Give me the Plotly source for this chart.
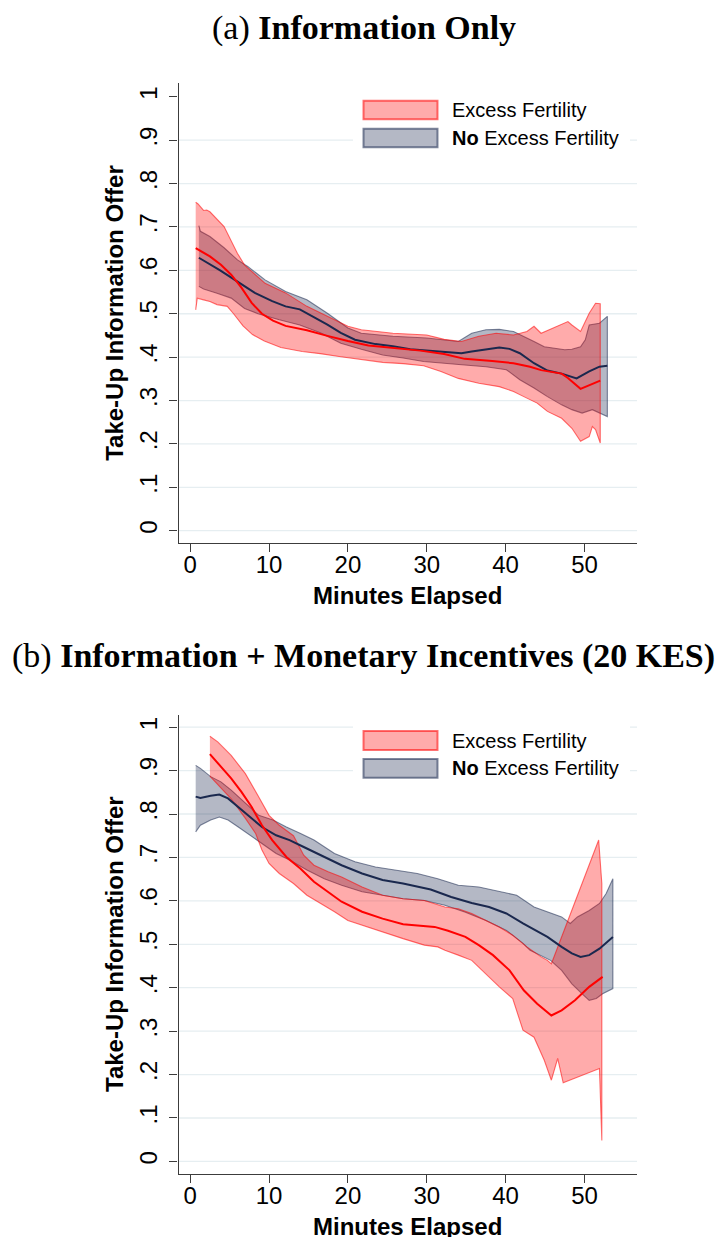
import plotly.graph_objects as go

W, H = 727, 1237

# ---------------- Panel (a): Information Only ----------------
# Excess Fertility: local mean and confidence band
a_ex_x = [0.7, 2.5, 3.9, 5.2, 6.5, 7.8, 9.1, 10.5, 12.1, 14.8, 17.4, 20.0, 22.6, 25.7, 29.2,
          32.2, 34.8, 38.3, 41.0, 43.1, 44.5, 47.1, 47.9, 49.5, 52.0]
a_ex_mean = [0.651, 0.632, 0.613, 0.590, 0.560, 0.525, 0.500, 0.484, 0.472, 0.462, 0.449, 0.437,
             0.427, 0.421, 0.415, 0.407, 0.396, 0.391, 0.386, 0.378, 0.370, 0.362, 0.352, 0.327, 0.346]
a_ex_hi_x = [0.7, 1.0, 1.7, 2.1, 2.5, 4.3, 6.0, 6.9, 9.5, 12.1, 14.8, 17.4, 20.0, 21.7, 25.7, 30.0,
             32.2, 34.4, 36.6, 38.8, 41.0, 42.7, 43.6, 44.5, 46.6, 47.9, 48.4, 49.5, 50.6, 51.4, 52.0]
a_ex_hi = [0.757, 0.753, 0.738, 0.739, 0.735, 0.701, 0.639, 0.612, 0.570, 0.548, 0.517, 0.494, 0.471,
           0.463, 0.455, 0.451, 0.441, 0.436, 0.448, 0.455, 0.451, 0.459, 0.471, 0.455, 0.471, 0.482,
           0.474, 0.459, 0.501, 0.524, 0.523]
a_ex_lo_x = [0.7, 0.9, 1.7, 2.5, 3.4, 4.7, 5.5, 6.7, 7.9, 9.4, 11.5, 14.2, 16.5, 19.1, 21.7, 24.4,
             27.0, 29.6, 31.8, 34.0, 36.6, 39.2, 41.0, 42.3, 44.0, 45.3, 47.1, 48.4, 49.5, 50.6, 51.0,
             51.4, 52.0]
a_ex_lo = [0.509, 0.536, 0.532, 0.528, 0.521, 0.517, 0.500, 0.472, 0.452, 0.437, 0.422, 0.413, 0.408,
           0.401, 0.394, 0.388, 0.385, 0.380, 0.367, 0.351, 0.340, 0.332, 0.321, 0.309, 0.294, 0.275,
           0.259, 0.236, 0.206, 0.217, 0.240, 0.233, 0.202]

# No Excess Fertility
a_no_x = [1.1, 3.8, 6.0, 8.2, 10.4, 12.1, 13.9, 15.6, 17.4, 19.1, 20.9, 23.5, 25.7, 27.9, 30.0,
          32.2, 34.4, 35.7, 37.5, 39.2, 40.5, 41.8, 43.6, 45.3, 47.1, 49.0, 50.6, 51.9, 52.9]
a_no_mean = [0.629, 0.600, 0.574, 0.548, 0.529, 0.517, 0.510, 0.493, 0.475, 0.456, 0.440, 0.430,
             0.425, 0.418, 0.415, 0.411, 0.409, 0.413, 0.418, 0.422, 0.419, 0.409, 0.386, 0.369,
             0.362, 0.351, 0.367, 0.378, 0.380]
a_no_hi_x = [1.1, 1.3, 2.5, 4.3, 6.0, 7.3, 9.5, 12.1, 14.8, 17.4, 20.0, 21.7, 25.7, 30.0, 34.0, 35.7,
             37.5, 39.2, 41.0, 42.3, 43.6, 44.9, 46.2, 47.5, 48.4, 49.5, 50.1, 50.6, 51.9, 52.9]
a_no_hi = [0.703, 0.690, 0.678, 0.652, 0.624, 0.609, 0.578, 0.551, 0.532, 0.501, 0.467, 0.455, 0.448,
           0.444, 0.436, 0.455, 0.463, 0.464, 0.459, 0.448, 0.436, 0.424, 0.421, 0.417, 0.418, 0.424,
           0.440, 0.474, 0.478, 0.494]
a_no_lo_x = [1.1, 1.7, 3.4, 5.2, 6.9, 8.6, 11.3, 13.9, 16.5, 19.1, 21.7, 24.4, 27.0, 29.6, 32.2, 34.8,
             37.5, 40.1, 41.8, 43.6, 45.3, 47.1, 48.4, 49.7, 51.0, 51.9, 52.9]
a_no_lo = [0.563, 0.557, 0.547, 0.536, 0.512, 0.500, 0.486, 0.474, 0.456, 0.432, 0.418, 0.405, 0.398,
           0.390, 0.386, 0.382, 0.378, 0.371, 0.348, 0.329, 0.309, 0.290, 0.279, 0.271, 0.279, 0.271,
           0.263]

# ---------------- Panel (b): Information + Monetary Incentives ----------------
b_ex_x = [2.5, 3.9, 5.2, 6.5, 7.8, 9.1, 10.4, 12.2, 14.0, 15.7, 17.5, 19.2, 21.8, 24.4, 27.0, 29.7,
          31.0, 32.7, 34.9, 36.6, 38.4, 40.5, 42.3, 44.0, 45.8, 47.1, 48.8, 50.6, 52.3]
b_ex_mean = [0.938, 0.908, 0.882, 0.851, 0.816, 0.774, 0.740, 0.701, 0.674, 0.644, 0.621, 0.598,
             0.575, 0.559, 0.546, 0.542, 0.540, 0.531, 0.517, 0.498, 0.475, 0.440, 0.394, 0.363,
             0.336, 0.348, 0.371, 0.402, 0.425]
b_ex_hi_x = [2.5, 3.5, 5.2, 7.0, 8.7, 10.0, 11.3, 13.1, 14.4, 15.7, 17.5, 19.2, 21.8, 24.4, 27.0,
             29.7, 32.3, 34.0, 35.7, 37.5, 39.2, 40.9, 42.7, 44.5, 45.3, 45.8, 51.8, 52.2]
b_ex_hi = [0.979, 0.966, 0.935, 0.893, 0.839, 0.797, 0.774, 0.750, 0.705, 0.682, 0.667, 0.655, 0.632,
           0.613, 0.605, 0.601, 0.586, 0.582, 0.571, 0.555, 0.540, 0.521, 0.494, 0.471, 0.463, 0.455,
           0.740, 0.640]
b_ex_lo_x = [2.5, 3.9, 5.2, 7.0, 8.3, 9.1, 10.0, 11.3, 13.1, 14.8, 16.5, 18.3, 20.0, 21.8, 24.4,
             27.0, 29.7, 31.4, 32.3, 34.0, 35.7, 37.5, 39.2, 40.9, 42.2, 43.6, 44.9, 45.8, 46.2, 46.6,
             47.3, 51.9, 52.2]
b_ex_lo = [0.887, 0.861, 0.835, 0.790, 0.755, 0.717, 0.686, 0.663, 0.640, 0.613, 0.594, 0.575, 0.555,
           0.544, 0.529, 0.513, 0.498, 0.494, 0.486, 0.475, 0.463, 0.432, 0.402, 0.375, 0.302, 0.286,
           0.233, 0.187, 0.210, 0.237, 0.181, 0.214, 0.048]

b_no_x = [0.7, 1.3, 2.6, 3.7, 4.8, 6.1, 7.4, 9.1, 10.9, 12.6, 14.4, 16.5, 19.2, 21.8, 24.4, 27.0,
          30.5, 33.1, 35.7, 37.9, 40.1, 42.2, 45.3, 47.1, 48.4, 49.5, 50.6, 51.9, 53.6]
b_no_mean = [0.840, 0.837, 0.842, 0.845, 0.836, 0.816, 0.797, 0.770, 0.751, 0.740, 0.724, 0.705,
             0.682, 0.663, 0.648, 0.640, 0.626, 0.609, 0.595, 0.586, 0.571, 0.548, 0.517, 0.494,
             0.479, 0.471, 0.475, 0.490, 0.517]
b_no_hi_x = [0.7, 1.3, 2.6, 3.9, 5.2, 7.0, 8.7, 10.5, 12.2, 14.0, 15.7, 18.3, 20.9, 23.5, 26.2, 28.8,
             31.4, 34.0, 36.6, 39.2, 41.4, 43.6, 45.3, 47.1, 48.2, 49.1, 50.6, 51.9, 52.75, 53.6]
b_no_hi = [0.912, 0.905, 0.886, 0.874, 0.855, 0.824, 0.797, 0.786, 0.770, 0.755, 0.740, 0.709, 0.690,
           0.678, 0.671, 0.663, 0.651, 0.636, 0.632, 0.621, 0.613, 0.586, 0.574, 0.563, 0.548, 0.563,
           0.578, 0.594, 0.617, 0.651]
b_no_lo_x = [0.7, 1.3, 2.6, 3.7, 4.8, 6.1, 7.4, 9.1, 10.9, 12.6, 14.8, 17.0, 19.2, 21.8, 24.4, 27.0,
             29.7, 32.3, 34.9, 37.5, 40.1, 42.2, 43.1, 45.7, 47.1, 48.4, 49.7, 50.6, 51.5, 52.3, 53.6]
b_no_lo = [0.759, 0.774, 0.786, 0.793, 0.786, 0.770, 0.755, 0.732, 0.709, 0.694, 0.671, 0.651, 0.636,
           0.621, 0.613, 0.605, 0.601, 0.590, 0.574, 0.555, 0.532, 0.502, 0.486, 0.463, 0.440, 0.409,
           0.386, 0.371, 0.375, 0.386, 0.398]

# Axis ticks and text
x_ticks = [0, 10, 20, 30, 40, 50]
y_ticks = [0, 0.1, 0.2, 0.3, 0.4, 0.5, 0.6, 0.7, 0.8, 0.9, 1.0]
y_ticktext = ["0", ".1", ".2", ".3", ".4", ".5", ".6", ".7", ".8", ".9", "1"]
grid_a = [0, 0.1, 0.2, 0.3, 0.4, 0.5, 0.6, 0.7, 0.8, 0.9]
grid_b = [0, 0.1, 0.2, 0.3, 0.4, 0.5, 0.6, 0.7, 0.8, 0.9, 1.0]
panel_titles = ["(a) <b>Information Only</b>",
                "(b) <b>Information + Monetary Incentives (20 KES)</b>"]
legend_labels = ["Excess Fertility", "<b>No</b> Excess Fertility"]
x_title = "Minutes Elapsed"
y_title = "Take-Up Information Offer"

# ---------------- styling ----------------
NAVY = "26,40,78"
RED = "255,0,0"
SANS = "Liberation Sans, Arial, sans-serif"
SERIF = "Liberation Serif, Times New Roman, serif"
AXIS_COLOR = "#3c3c3c"
GRID_COLOR = "#e6eef1"


def px_x(p):
    return p / W


def px_y(p):
    return 1 - p / H


def band(hx, hy, lx, ly, rgb, xa, ya):
    xs = list(hx) + list(reversed(lx))
    ys = list(hy) + list(reversed(ly))
    return go.Scatter(x=xs, y=ys, mode="lines", fill="toself",
                      fillcolor=f"rgba({rgb},0.33)",
                      line=dict(color=f"rgba({rgb},0.55)", width=1.1),
                      hoverinfo="skip", showlegend=False, xaxis=xa, yaxis=ya)


def mean_line(x, y, color, xa, ya):
    return go.Scatter(x=x, y=y, mode="lines", line=dict(color=color, width=2.0),
                      hoverinfo="skip", showlegend=False, xaxis=xa, yaxis=ya)


fig = go.Figure()
panels = [
    ("x", "y", a_ex_x, a_ex_mean, a_ex_hi_x, a_ex_hi, a_ex_lo_x, a_ex_lo,
     a_no_x, a_no_mean, a_no_hi_x, a_no_hi, a_no_lo_x, a_no_lo),
    ("x2", "y2", b_ex_x, b_ex_mean, b_ex_hi_x, b_ex_hi, b_ex_lo_x, b_ex_lo,
     b_no_x, b_no_mean, b_no_hi_x, b_no_hi, b_no_lo_x, b_no_lo),
]
for (xa, ya, ex_x, ex_m, ex_hx, ex_h, ex_lx, ex_l,
     no_x, no_m, no_hx, no_h, no_lx, no_l) in panels:
    fig.add_trace(band(no_hx, no_h, no_lx, no_l, NAVY, xa, ya))
    fig.add_trace(band(ex_hx, ex_h, ex_lx, ex_l, RED, xa, ya))
    fig.add_trace(mean_line(no_x, no_m, f"rgb({NAVY})", xa, ya))
    fig.add_trace(mean_line(ex_x, ex_m, f"rgb({RED})", xa, ya))

# Plot-region geometry in pixels: (top, bottom) of each panel
x_left, x_right = 178.5, 637.0
panel_px = [(83.3, 543.3), (715.0, 1174.0)]
x_range = [-1.48, 56.66]
y_ranges = [[-0.029, 1.031], [-0.029, 1.028]]

axis_common = dict(showline=True, linecolor=AXIS_COLOR, linewidth=1.3, ticks="outside",
                   ticklen=8, tickwidth=1.3, tickcolor=AXIS_COLOR, showgrid=False,
                   zeroline=False, tickfont=dict(family=SANS, size=24, color="black"))

layout_axes = {}
for i, (top, bot) in enumerate(panel_px):
    sfx = "" if i == 0 else "2"
    layout_axes[f"xaxis{sfx}"] = dict(axis_common, domain=[px_x(x_left), px_x(x_right)],
                                      range=x_range, tickvals=x_ticks,
                                      anchor=f"y{sfx}", ticklabelstandoff=-8)
    layout_axes[f"yaxis{sfx}"] = dict(axis_common, domain=[px_y(bot), px_y(top)],
                                      range=y_ranges[i], tickvals=y_ticks, ticktext=y_ticktext,
                                      tickangle=-90, anchor=f"x{sfx}", ticklabelstandoff=3)

shapes = []
annotations = []
legend_rows = [(100.7, 119.3, 128.7, 147.3), (731.0, 750.0, 759.0, 777.7)]
legend_box = [(88.0, 157.0), (719.0, 788.0)]
for i, grid in enumerate([grid_a, grid_b]):
    xa = "x" if i == 0 else "x2"
    ya = "y" if i == 0 else "y2"
    for v in grid:
        shapes.append(dict(type="line", xref=f"{xa} domain", yref=ya, x0=0, x1=1, y0=v, y1=v,
                           line=dict(color=GRID_COLOR, width=1.3), layer="below"))
    # white legend background interrupting grid lines
    bt, bb = legend_box[i]
    shapes.append(dict(type="rect", xref="paper", yref="paper", x0=px_x(353), x1=px_x(630),
                       y0=px_y(bb), y1=px_y(bt), fillcolor="white", line=dict(width=0),
                       layer="below"))
    r1t, r1b, r2t, r2b = legend_rows[i]
    shapes.append(dict(type="rect", xref="paper", yref="paper", x0=px_x(363.5), x1=px_x(437.5),
                       y0=px_y(r1b), y1=px_y(r1t), fillcolor=f"rgba({RED},0.33)",
                       line=dict(color=f"rgba({RED},0.55)", width=2), layer="above"))
    shapes.append(dict(type="rect", xref="paper", yref="paper", x0=px_x(363.5), x1=px_x(437.5),
                       y0=px_y(r2b), y1=px_y(r2t), fillcolor=f"rgba({NAVY},0.33)",
                       line=dict(color=f"rgba({NAVY},0.55)", width=2), layer="above"))
    for lab, (t, b) in zip(legend_labels, [(r1t, r1b), (r2t, r2b)]):
        annotations.append(dict(text=lab, xref="paper", yref="paper", x=px_x(450),
                                y=px_y((t + b) / 2), xanchor="left", yanchor="middle",
                                showarrow=False, font=dict(family=SANS, size=20, color="black")))
    top, bot = panel_px[i]
    # axis titles
    annotations.append(dict(text=f"<b>{x_title}</b>", xref="paper", yref="paper",
                            x=px_x((x_left + x_right) / 2), y=px_y(bot + 52), xanchor="center",
                            yanchor="middle", showarrow=False,
                            font=dict(family=SANS, size=24, color="black")))
    annotations.append(dict(text=f"<b>{y_title}</b>", xref="paper", yref="paper",
                            x=px_x(114.5), y=px_y((top + bot) / 2), xanchor="center",
                            yanchor="middle", textangle=-90, showarrow=False,
                            font=dict(family=SANS, size=24, color="black")))

# panel titles
for txt, ypx in zip(panel_titles, [28.0, 656.0]):
    annotations.append(dict(text=txt, xref="paper", yref="paper", x=0.5, y=px_y(ypx),
                            xanchor="center", yanchor="middle", showarrow=False,
                            font=dict(family=SERIF, size=34, color="black")))

fig.update_layout(width=W, height=H, autosize=False, margin=dict(l=0, r=0, t=0, b=0),
                  paper_bgcolor="white", plot_bgcolor="white", showlegend=False,
                  shapes=shapes, annotations=annotations, **layout_axes)

fig.write_html("out.html")
